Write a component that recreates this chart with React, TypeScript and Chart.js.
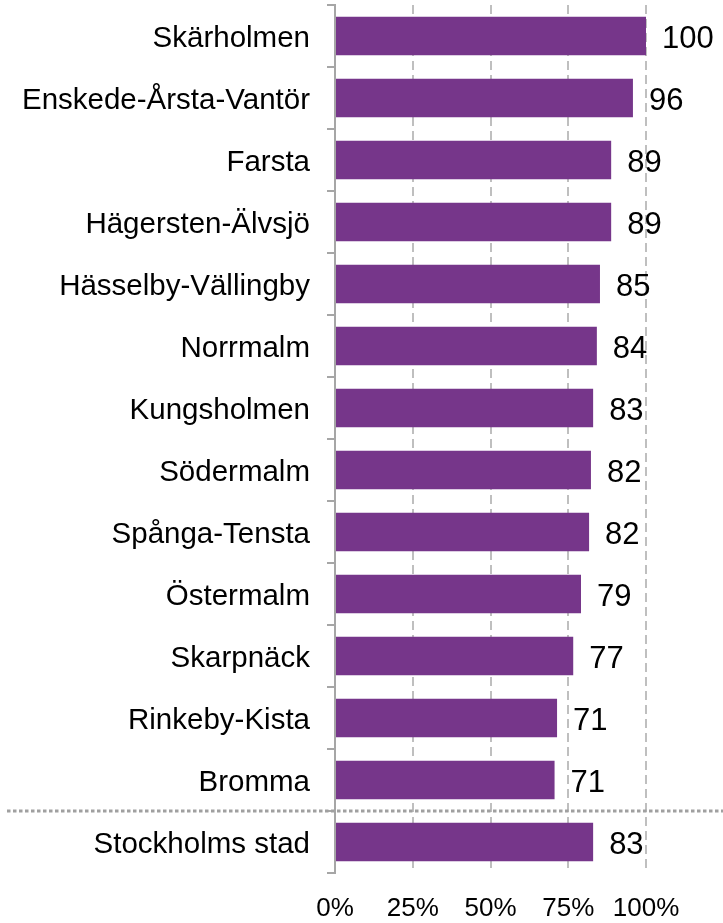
import React, { useEffect, useRef } from "react";
import { Chart, registerables } from "chart.js";

Chart.register(...registerables);

const categories = [
  "Skärholmen",
  "Enskede-Årsta-Vantör",
  "Farsta",
  "Hägersten-Älvsjö",
  "Hässelby-Vällingby",
  "Norrmalm",
  "Kungsholmen",
  "Södermalm",
  "Spånga-Tensta",
  "Östermalm",
  "Skarpnäck",
  "Rinkeby-Kista",
  "Bromma",
  "Stockholms stad",
];

const values = [100, 95.8, 88.8, 88.8, 85.2, 84.2, 83.0, 82.3, 81.7, 79.1, 76.6, 71.4, 70.6, 83.0];

const xTicks = [0, 25, 50, 75, 100];

const FONT = "'Liberation Sans', Arial, Helvetica, sans-serif";
const BAR_COLOR = "#76368A";
const AXIS_COLOR = "#A6A6A6";
const GRID_COLOR = "#BFBFBF";

const valueLabelPlugin = {
  id: "valueLabels",
  afterDatasetsDraw(chart: any) {
    const ctx = chart.ctx;
    const meta = chart.getDatasetMeta(0);
    ctx.save();
    ctx.font = `31px ${FONT}`;
    ctx.fillStyle = "#000";
    ctx.textAlign = "left";
    ctx.textBaseline = "middle";
    meta.data.forEach((bar: any, i: number) => {
      const v = chart.data.datasets[0].data[i] as number;
      ctx.fillText(String(Math.round(v)), bar.x + 16, bar.y + 3);
    });
    ctx.restore();
  },
};

const separatorPlugin = {
  id: "separator",
  afterDatasetsDraw(chart: any) {
    const y = chart.scales.y;
    const n = categories.length;
    const py = (y.getPixelForValue(n - 2) + y.getPixelForValue(n - 1)) / 2;
    const ctx = chart.ctx;
    ctx.save();
    ctx.strokeStyle = "#A0A0A0";
    ctx.lineWidth = 3;
    ctx.setLineDash([3.5, 2.5]);
    ctx.beginPath();
    ctx.moveTo(7, py);
    ctx.lineTo(chart.width, py);
    ctx.stroke();
    ctx.restore();
  },
};

export default function App() {
  const ref = useRef<HTMLCanvasElement | null>(null);

  useEffect(() => {
    document.body.style.margin = "0";
    if (!ref.current) return;
    const chart = new Chart(ref.current, {
      type: "bar",
      data: {
        labels: categories,
        datasets: [
          {
            data: values,
            backgroundColor: BAR_COLOR,
            borderWidth: 0,
            barPercentage: 0.62,
            categoryPercentage: 1,
          },
        ],
      },
      options: {
        indexAxis: "y",
        responsive: false,
        animation: false,
        layout: { padding: { top: 5, right: 77, left: 0, bottom: 0 } },
        plugins: {
          legend: { display: false },
          tooltip: { enabled: false },
        },
        scales: {
          x: {
            min: 0,
            max: 100,
            afterBuildTicks(scale: any) {
              scale.ticks = xTicks.map((v) => ({ value: v }));
            },
            afterFit(scale: any) {
              scale.height = 50;
              scale.paddingLeft = 0;
              scale.paddingRight = 0;
            },
            ticks: {
              callback: (v: any) => `${v}%`,
              color: "#000",
              font: { family: FONT, size: 26 },
              padding: 20,
              maxRotation: 0,
            },
            grid: {
              color: GRID_COLOR,
              lineWidth: 2,
              drawTicks: false,
            },
            border: { display: false, dash: [9, 5] },
          },
          y: {
            afterFit(scale: any) {
              scale.width = 335;
              scale.paddingTop = 0;
              scale.paddingBottom = 0;
            },
            ticks: {
              color: "#000",
              font: { family: FONT, size: 29.5 },
              padding: 17,
              labelOffset: 3,
            },
            grid: {
              drawOnChartArea: false,
              drawTicks: true,
              tickLength: 8,
              color: AXIS_COLOR,
              lineWidth: 2,
            },
            border: { display: true, color: AXIS_COLOR, width: 2 },
          },
        },
      },
      plugins: [separatorPlugin, valueLabelPlugin],
    });
    return () => chart.destroy();
  }, []);

  return (
    <div style={{ width: 723, height: 923 }}>
      <canvas ref={ref} width={723} height={923} />
    </div>
  );
}
